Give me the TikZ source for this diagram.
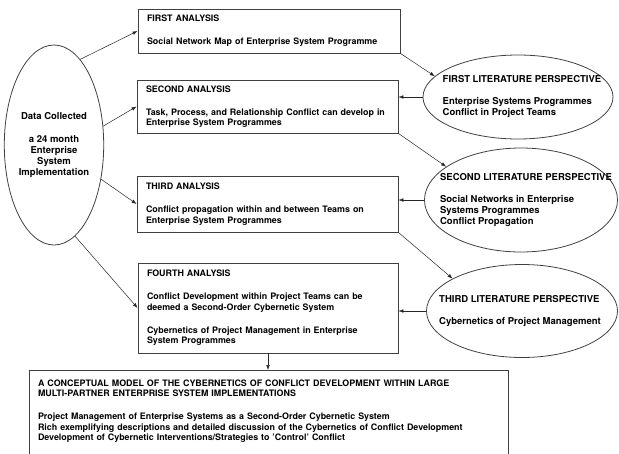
\documentclass[tikz,border=0pt]{standalone}
\usepackage{fontspec}
\setmainfont{TeX Gyre Heros}
\usepackage{tikz}
\usetikzlibrary{arrows.meta,shapes.geometric}

\begin{document}
\begin{tikzpicture}[x=1pt, y=-1pt,
  txt/.style={font=\fontsize{8.9}{10.5}\selectfont\bfseries},
  bigtxt/.style={font=\fontsize{9.5}{11}\selectfont\bfseries},
  anabox/.style={txt, draw=black!75, line width=0.8pt, align=left,
                 inner xsep=9pt, inner ysep=0pt},
  datell/.style={bigtxt, ellipse, draw=black!75, line width=0.8pt, align=center,
                 minimum width=96pt, minimum height=200pt, inner sep=0pt},
  litell/.style={ellipse, draw=black!75, line width=0.8pt, inner sep=0pt},
  littxt/.style={bigtxt, align=left, inner sep=0pt},
  arr/.style={-{Latex[length=5pt,width=3.6pt]}, line width=0.5pt, black!85}
]
  \useasboundingbox (0,0) rectangle (619,453);
  % data source
  \node[datell] (d) at (54,145) {Data Collected\\[11.5pt] a 24 month\\ Enterprise\\ System\\ Implementation};
  % analyses
  \node[anabox, text width=244pt, minimum height=44pt] (a1) at (269,31)
    {FIRST ANALYSIS\\[12.5pt] Social Network Map of Enterprise System Programme};
  \node[anabox, text width=243pt, minimum height=53pt] (a2) at (267.5,106.5)
    {SECOND ANALYSIS\\[12.5pt] Task, Process, and Relationship Conflict can develop in\\ Enterprise System Programmes};
  \node[anabox, text width=243pt, minimum height=56pt] (a3) at (267.5,204)
    {THIRD ANALYSIS\\[12.5pt] Conflict propagation within and between Teams on\\ Enterprise System Programmes};
  \node[anabox, text width=242pt, minimum height=90pt] (a4) at (268,308)
    {FOURTH ANALYSIS\\[12.5pt] Conflict Development within Project Teams can be\\ deemed a Second-Order Cybernetic System\\[12.5pt] Cybernetics of Project Management in Enterprise\\ System Programmes};
  % literature perspectives
  \node[litell, minimum width=190pt, minimum height=84pt,
        label={[littxt, xshift=4pt]center:{FIRST LITERATURE PERSPECTIVE\\[11pt] Enterprise Systems Programmes\\ Conflict in Project Teams}}] (l1) at (518,97) {};
  \node[litell, minimum width=193pt, minimum height=104pt,
        label={[littxt, xshift=5pt]center:{SECOND LITERATURE PERSPECTIVE\\[11pt] Social Networks in Enterprise\\ Systems Programmes\\ Conflict Propagation}}] (l2) at (521,200) {};
  \node[litell, minimum width=191pt, minimum height=93pt,
        label={[littxt, xshift=-2pt]center:{THIRD LITERATURE PERSPECTIVE\\[11pt] Cybernetics of Project Management}}] (l3) at (522,311) {};
  % conceptual model
  \node[anabox, text width=461pt, anchor=north, inner ysep=9pt] (m) at (268.5,370)
    {A CONCEPTUAL MODEL OF THE CYBERNETICS OF CONFLICT DEVELOPMENT WITHIN LARGE\\ MULTI-PARTNER ENTERPRISE SYSTEM IMPLEMENTATIONS\\[12.5pt] Project Management of Enterprise Systems as a Second-Order Cybernetic System\\ Rich exemplifying descriptions and detailed discussion of the Cybernetics of Conflict Development\\ Development of Cybernetic Interventions/Strategies to 'Control' Conflict\\[12.5pt] \mbox{}};
  % flow
  \draw[arr] (d.73) -- (a1.west);
  \draw[arr] (d.21) -- (a2.west);
  \draw[arr] (d.324) -- (a3.west);
  \draw[arr] (d.283) -- (a4.west);
  \draw[arr] (a1.south east) -- (l1.166);
  \draw[arr] (l1.west) -- (l1.west -| a2.east);
  \draw[arr] (a2.south east) -- (l2.156);
  \draw[arr] (l2.west) -- (l2.west -| a3.east);
  \draw[arr] (a3.south east) -- (l3.155);
  \draw[arr] (l3.west) -- (l3.west -| a4.east);
  \draw[arr] (a4.south) -- (a4.south |- m.north);
\end{tikzpicture}
\end{document}
